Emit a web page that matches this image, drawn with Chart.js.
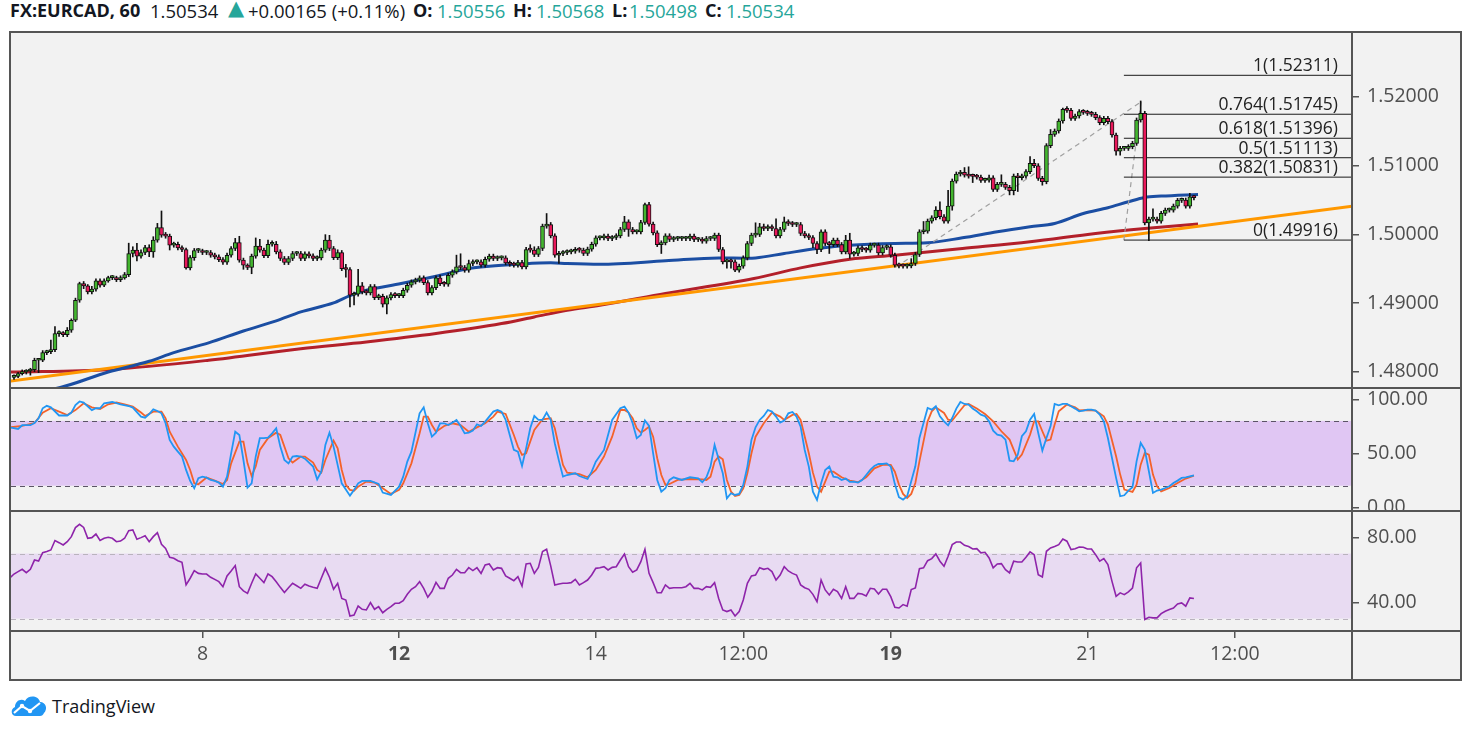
<!DOCTYPE html>
<html><head><meta charset="utf-8">
<script src="https://cdn.jsdelivr.net/npm/chart.js@4.4.1/dist/chart.umd.min.js"></script>
<style>
html,body{margin:0;padding:0;background:#fff;width:1471px;height:735px;overflow:hidden;font-family:'Open Sans',sans-serif;}
#title{position:absolute;left:0;top:0;width:900px;height:24px;font-size:18.5px;color:#131722;white-space:nowrap;}
#title span{position:absolute;top:-2px;}
#title .b{font-weight:700;font-size:18px;}
#title .t{color:#26a69a;}
#frame{position:absolute;left:9px;top:31px;width:1449px;height:646px;border:2px solid #555;background:#f2f2f2;}
canvas{position:absolute;}
.ln{position:absolute;background:#555;z-index:5;}
#logo{position:absolute;left:10px;top:694px;display:flex;align-items:center;font-size:18px;color:#131722;}
#logo svg{margin-right:4px;}
</style></head>
<body>
<div id="title"></div>
<div id="frame"></div>
<canvas id="cPrice" width="1449" height="354" style="left:11px;top:33px;width:1449px;height:354px"></canvas>
<canvas id="cStoch" width="1449" height="121" style="left:11px;top:389px;width:1449px;height:121px"></canvas>
<canvas id="cRsi" width="1449" height="167" style="left:11px;top:512px;width:1449px;height:167px"></canvas>
<div class="ln" style="left:11px;top:387px;width:1449px;height:2px"></div>
<div class="ln" style="left:11px;top:510px;width:1449px;height:2px"></div>
<div class="ln" style="left:11px;top:630px;width:1449px;height:2px"></div>
<div class="ln" style="left:1351px;top:33px;width:2px;height:646px"></div>
<div id="logo"><svg width="38" height="24" viewBox="0 0 38 24"><path d="M6 22 C1 22 0 15 5 13 C5 7 11 4 15 7 C18 1 28 1 30 8 C36 8 38 15 34 19 C33 21 32 22 30 22 Z" fill="#2196f3"/><polyline points="4,19 12,12 20,17 30,9" fill="none" stroke="#fff" stroke-width="2.2"/><circle cx="12" cy="12" r="2.2" fill="#fff"/><circle cx="20" cy="17" r="2.2" fill="#fff"/></svg><span>TradingView</span></div>
<script>
// ---------- header ----------
const symbolLabel = 'FX:EURCAD, 60';
const lastPrice = 1.50534;
const changeAbs = 0.00165;
const changePct = 0.11;
const header = {O: 1.50556, H: 1.50568, L: 1.50498, C: 1.50534};

// ---------- price data (hourly candles) ----------
const firstOpen = 1.47920;
const closes = [
1.47936,1.47975,1.47999,1.48013,1.48033,1.48169,1.48169,1.48280,1.48295,1.48324,
1.48557,1.48557,1.48542,1.48605,1.48751,1.49042,1.49284,1.49250,1.49163,1.49202,
1.49323,1.49260,1.49323,1.49371,1.49371,1.49342,1.49367,1.49415,1.49721,1.49769,
1.49682,1.49735,1.49808,1.49745,1.49915,1.50099,1.49987,1.49973,1.49842,1.49856,
1.49803,1.49779,1.49512,1.49662,1.49764,1.49764,1.49735,1.49735,1.49696,1.49672,
1.49633,1.49594,1.49696,1.49793,1.49881,1.49624,1.49551,1.49517,1.49682,1.49827,
1.49769,1.49691,1.49856,1.49856,1.49745,1.49648,1.49590,1.49648,1.49721,1.49721,
1.49648,1.49716,1.49687,1.49648,1.49657,1.49769,1.49915,1.49793,1.49662,1.49735,
1.49502,1.49488,1.49114,1.49129,1.49250,1.49163,1.49148,1.49240,1.49080,1.49100,
1.48983,1.49076,1.49124,1.49109,1.49109,1.49187,1.49260,1.49308,1.49333,1.49366,
1.49298,1.49148,1.49226,1.49366,1.49284,1.49274,1.49405,1.49454,1.49527,1.49517,
1.49478,1.49575,1.49599,1.49599,1.49551,1.49638,1.49682,1.49648,1.49657,1.49657,
1.49585,1.49565,1.49551,1.49590,1.49527,1.49779,1.49769,1.49706,1.49793,1.50118,
1.50142,1.49978,1.49696,1.49721,1.49735,1.49745,1.49754,1.49779,1.49769,1.49721,
1.49784,1.49856,1.49948,1.49948,1.49973,1.49939,1.49953,1.49978,1.50070,1.50181,
1.50070,1.50036,1.50036,1.50172,1.50433,1.50147,1.50021,1.49851,1.49876,1.49978,
1.49924,1.49939,1.49939,1.49939,1.49939,1.49973,1.49924,1.49924,1.49900,1.49939,
1.49939,1.49987,1.49779,1.49599,1.49609,1.49599,1.49478,1.49536,1.49657,1.49866,
1.49987,1.49997,1.50109,1.50084,1.50109,1.50084,1.49978,1.50070,1.50181,1.50157,
1.50142,1.50142,1.50012,1.49978,1.49953,1.49866,1.49779,1.50036,1.49866,1.49851,
1.49915,1.49851,1.49745,1.49915,1.49711,1.49721,1.49803,1.49779,1.49769,1.49842,
1.49842,1.49730,1.49808,1.49817,1.49696,1.49551,1.49542,1.49537,1.49542,1.49576,
1.49707,1.50037,1.50046,1.50192,1.50240,1.50352,1.50255,1.50192,1.50410,1.50774,
1.50876,1.50900,1.50861,1.50846,1.50842,1.50832,1.50783,1.50788,1.50822,1.50652,
1.50725,1.50725,1.50682,1.50633,1.50846,1.50822,1.50846,1.50910,1.51031,1.50997,
1.50813,1.50764,1.51288,1.51453,1.51501,1.51647,1.51816,1.51802,1.51685,1.51719,
1.51783,1.51773,1.51758,1.51744,1.51695,1.51622,1.51685,1.51637,1.51443,1.51210,
1.51249,1.51249,1.51273,1.51322,1.51661,1.51758,1.50167,1.50221,1.50221,1.50192,
1.50303,1.50352,1.50352,1.50410,1.50492,1.50497,1.50410,1.50546,1.50534];
// upper / lower wick lengths in pips (0.0001)
const wickUp = [
2,2,3,2,2,3,2,3,2,14, 10,4,3,4,2,3,2,3,2,4, 3,3,3,2,3,2,3,3,15,5, 10,4,3,4,5,6,24,4,3,3,
3,3,2,3,3,3,2,3,3,3, 3,3,3,3,6,9,3,2,3,12, 10,3,6,5,4,3,3,3,3,3, 3,3,3,3,3,3,8,7,3,4,
3,6,3,3,24,5,3,3,3,3, 3,3,3,3,3,3,3,3,3,3, 3,3,3,3,4,3,3,3,17,19, 3,5,3,3,3,3,3,3,3,3,
3,3,3,3,3,3,7,5,3,3, 16,3,3,3,3,3,3,3,3,3, 3,3,3,3,3,3,3,3,3,8, 3,3,3,3,2,3,3,3,3,3,
3,3,3,3,3,3,3,3,3,3, 3,3,3,3,3,3,3,3,3,3, 3,17,5,4,3,3,14,3,7,3, 3,3,3,3,3,3,3,3,3,3,
3,3,3,7,10,3,3,3,3,3, 3,3,3,3,3,3,3,3,3,7, 3,3,14,3,3,5,12,3,23,3, 3,3,7,12,3,3,3,3,4,3,
3,14,3,3,3,4,3,3,10,6, 3,3,3,7,3,3,2,4,3,3, 3,3,3,3,3,3,3,3,3,3, 3,3,3,3,3,18,3,3,15,3,
3,3,3,3,3,3,3,5,1];
const wickDn = [
3,2,2,3,6,3,18,2,3,3, 3,4,3,3,3,2,3,4,3,3, 3,3,2,2,3,3,3,2,3,5, 7,3,3,7,8,3,3,3,7,3,
3,3,2,3,4,3,3,3,3,3, 3,3,3,3,3,3,6,3,9,3, 3,3,3,3,3,3,3,3,3,3, 3,3,3,3,3,3,3,3,3,3,
3,11,17,14,3,3,3,3,3,3, 4,14,3,3,3,3,3,3,3,3, 3,3,3,3,3,3,3,3,3,3, 3,3,3,3,3,3,3,3,3,3,
3,3,3,3,3,3,3,3,3,3, 3,3,3,12,3,3,3,3,3,3, 3,3,3,3,3,3,3,3,3,3, 10,3,3,3,3,3,3,3,13,3,
3,3,3,3,3,3,3,3,3,3, 3,3,3,3,9,9,2,3,3,3, 3,3,3,3,3,3,3,3,3,3, 3,3,3,3,3,6,6,3,3,13,
3,3,3,3,6,3,3,3,3,3, 3,3,3,3,3,3,3,3,3,3, 3,3,3,3,3,3,3,3,3,6, 3,3,3,3,9,3,3,3,3,3,
3,3,3,6,6,20,3,3,3,3, 3,5,3,3,3,3,3,3,3,3, 3,3,3,3,3,3,3,3,3,6, 6,3,3,3,3,3,3,26,3,3,
3,3,3,3,3,3,3,3,4];

// moving averages: [bar index, price]
const blueMA = [[-1,1.4770],[10,1.47756],[23,1.47999],[33,1.48154],[39,1.48280],[47.5,1.48421],[56,1.48595],[64,1.48741],[70,1.48872],[78,1.49003],[82,1.49109],[86,1.49187],[94.5,1.49284],[103,1.49391],[111,1.49502],[116,1.49536],[123,1.49565],[131,1.49585],[135,1.49575],[143,1.49565],[159,1.49614],[172,1.49657],[179,1.49653],[181,1.49657],[188,1.49721],[196,1.49793],[204,1.49842],[215,1.49867],[223,1.49876],[231.5,1.49949],[240,1.50037],[248,1.50109],[254,1.50158],[261,1.50303],[267,1.50386],[272,1.50473],[276,1.50536],[280,1.50555],[289,1.50580]];
const redMA = [[-1,1.47999],[23,1.48033],[47.5,1.48169],[70,1.48338],[86,1.48435],[103,1.48557],[119,1.48702],[127,1.48799],[135,1.48896],[143,1.48969],[159,1.49139],[180.6,1.49357],[192,1.49512],[204,1.49638],[215,1.49697],[231.5,1.49794],[248,1.49891],[264,1.50012],[276,1.50085],[289,1.50150]];
const trendLine = [[-1,1.47866],[326.6,1.50409]];
const dashTrend = [[215.3,1.49525],[275.1,1.51927]];
const fibAnchor = [[275.1,1.51927],[270.9,1.49916]];
const fibStart = 270.9;
const fibLevels = ['1','0.764','0.618','0.5','0.382','0'];
const fibPrices = [1.52311,1.51745,1.51396,1.51113,1.50831,1.49916];

// stochastic %K / %D: [bar index, value]
const stochK = [[-1,74],[1,72.5],[2,76],[4,76],[5,78],[6,82.4],[7,91.7],[8,94],[9,92.6],[11,85],[13,85],[14,87.7],[15,94.7],[16,98],[17,97],[19,90],[20,91.7],[21,91.7],[22,96.3],[24,97.5],[26,95.4],[28,93.8],[29,92.3],[31,84],[32,83],[33,86.4],[34,90.7],[35,89.2],[36,87],[37,77.8],[38,62.4],[39,56.2],[40,51.5],[41,47],[42,34.6],[43,24.4],[44,17.6],[45,26.9],[46,28.4],[47,27.5],[48,25.3],[49,24.4],[50,22.9],[51,19.1],[52,28.4],[53,50],[54,70],[55,67],[56,43.8],[57,18.2],[58,22.2],[59,47],[60,64],[61,64],[62,64.5],[63,68.5],[64,73.2],[65,56.2],[66,43.8],[67,40.7],[68,47],[69,47.5],[70,47],[71,45],[73,37.7],[74,25.9],[75,33],[76,57.7],[77,69.1],[78,56.2],[80,22.2],[82,10.8],[83,16.1],[84,22.2],[85,24.4],[87,24.4],[89,21.6],[90,13.6],[92,11.4],[94,19.1],[95,28.4],[96,42.3],[97,51.5],[99,87],[100,92.6],[101,77.8],[102,65.4],[103,69.1],[104,77.8],[105,77.8],[106,76.2],[107,78.4],[108,80.9],[109,75.3],[110,68.5],[111,69.1],[112,71],[113,76.9],[114,75.3],[115,79.3],[117,88.6],[118,90.1],[119,88.6],[120,80.9],[121,67],[122,53.1],[123,51.5],[124,38.3],[125,54.6],[126,73.2],[127,84.6],[128,80.9],[129,80.9],[130,87.7],[131,80.9],[132,59.3],[133,43.2],[134,28.4],[135,29.9],[137,31.5],[138,29],[140,26.2],[141,33],[142,42.3],[144,53.1],[146,80.9],[148,91.7],[149,93.2],[150,87.7],[151,77.8],[152,64],[153,67],[154,80.3],[155,75.3],[156,50],[157,25.3],[158,14.5],[159,17.6],[160,25.3],[161,27.8],[163,25.3],[165,27.8],[167,26.9],[168,23.2],[169,27.8],[170,37.7],[171,57.7],[172,44.5],[173,31.5],[174,8.3],[175,13],[176,11.4],[177,12.4],[178,20.7],[179,37.7],[180,62.4],[181,74.1],[182,80.9],[183,84.6],[184,90.1],[185,88.6],[186,84],[187,78.4],[188,80.3],[189,87],[190,88.3],[191,84],[192,74.7],[193,53.1],[194,37.7],[195,14.5],[196,6.8],[197,22.2],[198,34.6],[199,37.7],[200,28.4],[201,27.8],[202,25.3],[203,26.6],[204,23.5],[205,23.8],[206,22.9],[207,25.3],[208,29.9],[209,34.6],[210,38.3],[211,40.1],[212,40.1],[213,40.7],[214,37.7],[215,21.5],[216,9.3],[217,7.1],[218,10.2],[219,24.1],[220,38],[221,64.2],[222,78],[223,92],[224,90.4],[225,93.5],[226,84.3],[227,79.6],[228,75.9],[229,82.7],[230,91.4],[231,97.5],[232,95.7],[233,95.1],[234,91.4],[235,88.9],[236,85.8],[237,84.3],[238,79.6],[239,71],[240,67.3],[241,66.4],[242,62.7],[243,43.2],[244,42.6],[245,48.8],[246,65.8],[247,70.4],[248,81.2],[249,86.4],[250,68.8],[251,52.5],[252,64.2],[253,75],[254,95.7],[255,94.5],[256,95.7],[257,95.7],[258,93.5],[259,91.4],[260,88.9],[261,89.5],[262,90.4],[263,90.4],[264,89.5],[265,85.8],[266,79.6],[267,64.2],[268,45.7],[269,27.2],[270,10.2],[271,11.1],[272,15.5],[273,18.5],[274,42.6],[275,59.6],[276,53.4],[277,33.4],[278,13.3],[279,15.5],[280,16.4],[281,17.9],[282,19.5],[283,22.5],[284,24.7],[285,27.2],[286,27.8],[287,28.7],[288,29.6]];
const stochD = [[-1,74],[2,75.3],[5,78],[7,87.7],[9,91.7],[11,88.6],[13,85.5],[15,90],[17,96.3],[19,92.6],[21,91],[23,95.4],[25,97],[27,95.4],[29,93.2],[31,87.7],[32,84.6],[34,88.6],[36,88.6],[37,82.4],[38,70],[40,56.2],[42,43.8],[43,34.6],[44,22.2],[45,21.3],[47,27.5],[49,24.7],[51,21.6],[52,25.3],[53,40.7],[55,60.8],[56,60.8],[57,40.7],[58,29],[59,37.7],[60,53.1],[62,64],[64,69.1],[65,67],[67,45.4],[68,41.4],[70,47],[71,47],[73,41.4],[74,34.6],[75,32.1],[76,43.8],[78,61.7],[79,54.6],[80,34.6],[81,20.7],[82,16.1],[83,15.4],[84,19.1],[86,23.8],[88,22.9],[90,17.6],[92,12.4],[94,16.1],[95,22.2],[97,40.7],[99,68.5],[100,84],[101,84],[102,76.2],[103,70],[105,75.3],[107,77.8],[109,76.2],[111,70],[113,74],[115,77.8],[117,84],[118,88.6],[120,86.4],[122,67],[123,56.2],[124,48.5],[125,50],[127,71.6],[129,81.5],[131,82.4],[132,73.2],[134,39.2],[135,32.1],[138,30.6],[140,27.8],[142,34.6],[144,47],[146,65.4],[148,90.1],[149,90.1],[150,87.7],[151,82.4],[152,73.2],[153,69.1],[154,71.6],[155,74.7],[156,65.4],[157,45.4],[158,29.9],[159,20.7],[160,21.6],[162,25.3],[165,26.2],[168,25.9],[169,25.3],[170,28.4],[171,42.3],[172,47],[173,44.5],[174,25.3],[175,14.5],[176,10.5],[177,11.4],[178,17.6],[179,31.5],[180,50],[181,65.4],[183,77.8],[185,87.7],[187,84],[188,80.9],[190,85.5],[191,86.4],[192,80.9],[194,50],[195,32.1],[196,19.1],[197,14.5],[198,23.8],[199,33],[200,33],[202,27.8],[204,24.7],[206,23.2],[208,27.8],[210,36.1],[212,39.2],[214,39.2],[215,33],[216,21],[217,12.4],[218,8.7],[219,12.4],[220,22.5],[221,42.6],[223,79.6],[224,88.9],[225,92.6],[227,87.4],[228,81.2],[229,80.3],[230,85.2],[232,94.5],[233,95.7],[235,91.4],[237,86.4],[239,79.6],[241,70.4],[243,62.7],[244,53.4],[245,44.2],[246,48.8],[248,67.3],[249,79.6],[250,79.6],[251,70.4],[252,61.7],[253,62.7],[254,76.6],[255,88.9],[257,95.1],[259,92.6],[260,89.8],[262,90.1],[264,89.5],[266,84.3],[267,76.6],[269,47.2],[270,30.3],[271,16.4],[273,14.2],[274,21],[275,39.5],[276,50.3],[277,48.8],[278,30.3],[279,19.5],[280,14.8],[282,17.9],[284,22.5],[286,26.6],[288,29.3]];

// RSI, one value per bar
const rsi = [
57.4,58.9,60.3,58.2,60.3,66,65.4,70.5,71.2,72.2, 78,76.7,75.3,77.3,80.4,86,88,86.1,79.4,79.8,
82,78,79.4,80,79.4,77.3,77.7,79.4,84.1,84.5, 78.8,79.8,81,77.3,80.4,82.9,75.7,73.2,67.7,67.1,
65.6,64.6,50.7,54.8,59.5,57.8,57.4,57.4,55.4,54.1, 52.7,49.6,56.2,59.3,62.6,49.6,47,45.5,51.7,57.4,
54.8,52.1,57.4,55.8,52.7,49.2,46,49,51.7,50.2, 48.6,51.1,50,49.2,48.6,54.8,60.9,55.4,48,51.7,
42.4,41.4,31.6,32.2,37.7,35.7,35.3,39.8,35.7,37.3, 33.6,35.7,37.3,39.4,39.4,41,44.9,48,49.6,52.7,
48.6,43.1,46.6,52.3,48.6,48.6,54.8,56.8,60.3,58.2, 58.2,61.3,59.5,61.3,57.8,63,63.6,59.9,61.3,60.9,
56.2,54.8,53.3,55.8,50,63.6,64,57.8,61.5,71.2, 72.6,62.4,50.7,51.3,51.7,51.7,52.1,54.1,50.7,52.1,
53.7,56.8,60.9,61.3,61.9,59.9,61.5,61.9,66,69.7, 61.9,58.5,59.9,65,72.6,57.8,52.1,45.9,45.9,50.7,
48.6,49,49,49,49.6,51.7,48.6,48.6,47.6,49.6, 49.2,52.1,42.4,35.3,34.3,35.3,31.6,34.3,41.4,51.7,
56.2,56.8,61.3,60.3,60.9,58.9,53.7,56.8,61.9,59.3, 57.8,56.8,50.7,49,48,44.9,40.4,53.7,47.6,44.5,
48,46.6,42.4,49.6,42.4,42.4,45.5,45.1,43.9,48.6, 48.2,45.1,48,48,43.5,36.9,36.5,38.6,37.6,47.8,
48.8,60.7,61.2,65.6,66.9,69.8,65.3,62.2,68.3,75.5, 77.1,77.1,75.1,74.3,72.8,73,70.4,70.8,67.3,61.2,
63.6,63.8,60.1,58.1,65.3,64.8,64.8,67.7,71,69.3, 57,55.6,71.4,73.5,74.3,75.5,79,77.6,72.4,73,
74,73.9,72.8,72.8,69.3,65.3,66.9,63.2,52.9,43.7, 45.8,44.7,46.4,48.8,61.2,64.2,29.4,30.8,30.4,30.4,
33,34.5,35.5,36.5,39,39.6,37.6,42.7,42.3];
const rsiLeadIn = [-0.8, 55.4];

// axes
const priceTicks = [1.48,1.49,1.50,1.51,1.52];
const priceTickLabels = ['1.48000','1.49000','1.50000','1.51000','1.52000'];
const stochTicks = [0,50,100];
const stochTickLabels = ['0.00','50.00','100.00'];
const rsiTicks = [40,80];
const rsiTickLabels = ['40.00','80.00'];
const timeTicks = [46,94,142,178,214,262,298];
const timeTickLabels = ['8','12','14','12:00','19','21','12:00'];
const timeTickBold = [false,true,false,false,true,false,false];

// ---------- title (text tokens with their left offsets) ----------
const f5 = v => v.toFixed(5);
const titleTokens = [
  [10, symbolLabel, 'b'], [150, f5(lastPrice), ''], [228, '\u25B2', 't'],
  [248, `+${f5(changeAbs)} (+${changePct.toFixed(2)}%)`, ''],
  [413, 'O:', 'b'], [437, f5(header.O), 't'], [513, 'H:', 'b'], [536, f5(header.H), 't'],
  [612, 'L:', 'b'], [629, f5(header.L), 't'], [705, 'C:', 'b'], [726, f5(header.C), 't']
];
const titleEl = document.getElementById('title');
titleTokens.forEach(([x, txt, cls]) => {
  const s = document.createElement('span');
  s.textContent = txt; s.className = cls; s.style.left = x + 'px';
  if (txt === '\u25B2') { s.style.fontSize = '21px'; s.style.top = '-4px'; s.style.fontFamily = "'DejaVu Sans', sans-serif"; }
  titleEl.appendChild(s);
});

// ---------- build candles ----------
const PIP = 0.0001;
const bars = closes.map((c, i) => {
  const o = i === 0 ? firstOpen : closes[i - 1];
  return {i, o, c, h: Math.max(o, c) + wickUp[i] * PIP, l: Math.min(o, c) - wickDn[i] * PIP};
});
const lastBar = bars[bars.length - 1];
lastBar.o = header.O; lastBar.h = header.H; lastBar.l = header.L; lastBar.c = header.C;

const UP = '#43b52f', DOWN = '#e8195b';
const FONT = "'Open Sans', sans-serif";
const AXIS_COLOR = '#4f4f4f';
const X_MIN = -0.732, X_MAX = 326.58;
const pairs = arr => arr.map(([x, y]) => ({x, y}));

function yAxis(min, max, ticks, labels) {
  return {
    position: 'right', min, max,
    afterBuildTicks: s => { s.ticks = ticks.map(v => ({value: v})); },
    afterFit: s => { s.width = 108; s.paddingTop = 0; s.paddingBottom = 0; },
    ticks: {callback: (v, i) => labels[i], color: AXIS_COLOR, font: {family: FONT, size: 19.5}, padding: 8, autoSkip: false},
    grid: {drawOnChartArea: false, drawTicks: true, tickLength: 7, tickColor: '#555', lineWidth: 1.5},
    border: {display: false}
  };
}
const hiddenX = {type: 'linear', min: X_MIN, max: X_MAX, offset: false, display: false};
const common = {responsive: false, animation: false, events: [], layout: {padding: 0}};

const lineDs = (data, color, width, order, extra) => Object.assign({
  type: 'line', data, borderColor: color, borderWidth: width, pointRadius: 0,
  fill: false, order, cubicInterpolationMode: 'monotone'
}, extra || {});
const straight = {tension: 0, cubicInterpolationMode: 'default'};

// ---------- price chart ----------
const fibPlugin = {
  id: 'fibLabels',
  afterDatasetsDraw(chart) {
    const {ctx, chartArea, scales: {y}} = chart;
    ctx.save();
    ctx.font = `17.5px ${FONT}`;
    ctx.fillStyle = '#222';
    ctx.textAlign = 'right';
    ctx.textBaseline = 'alphabetic';
    fibLevels.forEach((lv, k) => {
      ctx.fillText(`${lv}(${f5(fibPrices[k])})`, chartArea.right - 14, y.getPixelForValue(fibPrices[k]) - 4);
    });
    ctx.restore();
  }
};

const fibDatasets = fibPrices.map(p => lineDs([{x: fibStart, y: p}, {x: X_MAX, y: p}], '#1a1a1a', 1, 2, straight));

new Chart(document.getElementById('cPrice'), {
  type: 'bar',
  data: {datasets: [
    lineDs(pairs(redMA), '#b3202a', 3, 6),
    lineDs(pairs(trendLine), '#ff9800', 3, 5, straight),
    lineDs(pairs(blueMA), '#1b4ea3', 3, 4),
    lineDs(pairs(dashTrend), '#a0a0a0', 1.2, 3, Object.assign({borderDash: [5, 4]}, straight)),
    lineDs(pairs(fibAnchor), '#a0a0a0', 1.2, 3, Object.assign({borderDash: [5, 4]}, straight)),
    ...fibDatasets,
    {type: 'bar', data: bars.map(b => ({x: b.i, y: [b.l, b.h]})), backgroundColor: '#111', borderWidth: 0,
     barThickness: 1, grouped: false, order: 1, minBarLength: 1},
    {type: 'bar', data: bars.map(b => ({x: b.i, y: [b.o, b.c]})),
     backgroundColor: bars.map(b => b.c >= b.o ? UP : DOWN), borderColor: '#111', borderWidth: 1,
     borderSkipped: false, barThickness: 4, grouped: false, order: 0, minBarLength: 2}
  ]},
  options: Object.assign({}, common, {
    plugins: {legend: {display: false}, tooltip: {enabled: false}},
    scales: {x: hiddenX, y: yAxis(1.477805, 1.529259, priceTicks, priceTickLabels)}
  }),
  plugins: [fibPlugin]
});

// ---------- band plugin (stoch / rsi) ----------
const bandPlugin = {
  id: 'band',
  beforeDatasetsDraw(chart, args, o) {
    const {ctx, chartArea: a, scales: {y}} = chart;
    const y1 = y.getPixelForValue(o.hi), y2 = y.getPixelForValue(o.lo);
    ctx.save();
    ctx.fillStyle = o.fill;
    ctx.fillRect(a.left, y1, a.right - a.left, y2 - y1);
    ctx.strokeStyle = o.line; ctx.lineWidth = 1.2; ctx.setLineDash([5, 4]);
    [y1, y2].forEach(yy => { ctx.beginPath(); ctx.moveTo(a.left, Math.round(yy) + 0.5); ctx.lineTo(a.right, Math.round(yy) + 0.5); ctx.stroke(); });
    ctx.restore();
  }
};

// ---------- stochastic ----------
new Chart(document.getElementById('cStoch'), {
  type: 'line',
  data: {datasets: [
    lineDs(pairs(stochD), '#f4622a', 1.8, 2, straight),
    lineDs(pairs(stochK), '#2196f3', 1.8, 1, straight)
  ]},
  options: Object.assign({}, common, {
    plugins: {legend: {display: false}, tooltip: {enabled: false}, band: {hi: 80, lo: 20, fill: '#e0c6f3', line: '#5c5466'}},
    scales: {x: hiddenX, y: yAxis(-2.5, 109.54, stochTicks, stochTickLabels)}
  }),
  plugins: [bandPlugin]
});

// ---------- RSI ----------
new Chart(document.getElementById('cRsi'), {
  type: 'line',
  data: {datasets: [
    lineDs([{x: rsiLeadIn[0], y: rsiLeadIn[1]}].concat(rsi.map((v, i) => ({x: i, y: v}))), '#8e24aa', 1.6, 1, straight)
  ]},
  options: Object.assign({}, common, {
    plugins: {legend: {display: false}, tooltip: {enabled: false}, band: {hi: 70, lo: 30, fill: '#e8dbf2', line: '#b9b3bd'}},
    scales: {
      x: {type: 'linear', min: X_MIN, max: X_MAX, offset: false, position: 'bottom',
        afterBuildTicks: s => { s.ticks = timeTicks.map(v => ({value: v})); },
        afterFit: s => { s.height = 48; s.paddingLeft = 0; s.paddingRight = 0; },
        ticks: {callback: (v, i) => timeTickLabels[i], color: AXIS_COLOR, autoSkip: false, maxRotation: 0, padding: 5,
          font: c => ({family: FONT, size: 19.5, weight: timeTickBold[c.index] ? 'bold' : 'normal'})},
        grid: {drawOnChartArea: false, drawTicks: true, tickLength: 7, tickColor: '#555', lineWidth: 1.5},
        border: {display: false}},
      y: yAxis(22.34, 95.57, rsiTicks, rsiTickLabels)
    }
  }),
  plugins: [bandPlugin]
});
</script>
</body></html>
